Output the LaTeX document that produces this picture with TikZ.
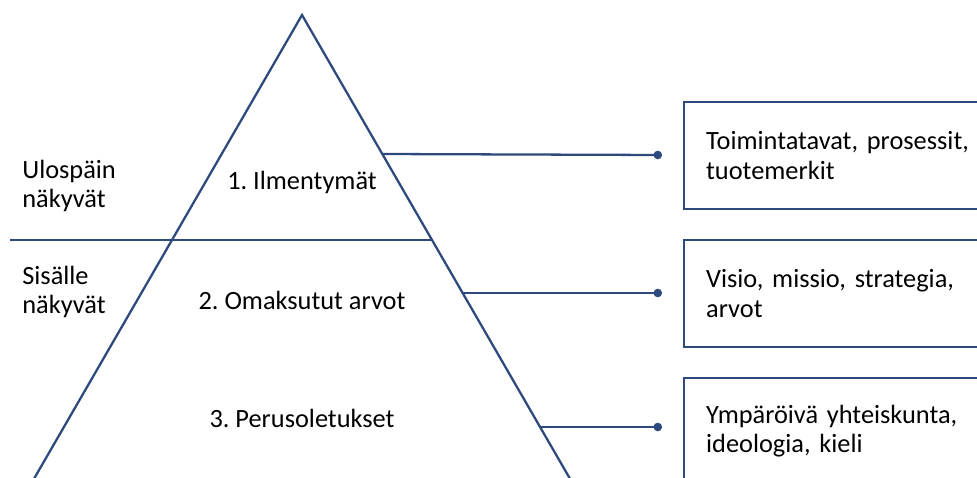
\documentclass[tikz,border=0pt]{standalone}
\usepackage{fontspec}
\setmainfont{Carlito}
\usetikzlibrary{arrows.meta}
\definecolor{linjasin}{HTML}{2E4A7D}
\tikzset{
    viiva/.style={draw=linjasin, line width=1.3pt},
    laatikko/.style={viiva, rectangle, anchor=west, minimum width=6.4cm, minimum height=2.14cm,
        text width=5.6cm, inner xsep=0.44cm, align=left, font=\teksti},
    teksti/.style={font=\teksti, align=left, inner sep=0pt},
    piste/.style={viiva, -{Circle[length=4.8pt]}}
}
\newcommand{\teksti}{\fontsize{15}{16.6}\selectfont\frenchspacing}
\begin{document}
\begin{tikzpicture}[x=0.02cm,y=-0.02cm]
    \clip (0,0) rectangle (977,477);
    \coordinate (huippu) at (302,15);
    \coordinate (vasen) at (20,503);
    \coordinate (oikea) at (584,503);
    \draw [viiva, line join=miter] (vasen) -- (huippu) -- (oikea);
    \coordinate (raja0) at (10,240);
    \coordinate (raja1) at (432,240);
    \draw [viiva] (raja0) -- (raja1);
    % tasot
    \node [teksti, anchor=center] (taso1) at (302,182) {1. Ilmentymät};
    \node [teksti, anchor=center] (taso2) at (302,300) {2. Omaksutut arvot};
    \node [teksti, anchor=center] (taso3) at (302,418) {3. Perusoletukset};
    \node [teksti, anchor=west] (ulos) at (22,186) {Ulospäin\\näkyvät};
    \node [teksti, anchor=west] (sisa) at (22,292) {Sisälle\\näkyvät};
    % laatikot
    \node [laatikko] (laatikko1) at (683,155.5) {Toimintatavat, prosessit,\\tuotemerkit};
    \node [laatikko] (laatikko2) at (683,293.5) {Visio, missio, strategia,\\arvot};
    \node [laatikko] (laatikko3) at (683,431.5) {Ympäröivä yhteiskunta,\\ideologia, kieli};
    \coordinate (reuna1) at (382,154);
    \coordinate (reuna2) at (463,293);
    \coordinate (reuna3) at (540,427);
    \coordinate (piste1) at (662,155);
    \coordinate (piste2) at (662,293);
    \coordinate (piste3) at (662,427);
    \draw [piste] (reuna1) -- (piste1);
    \draw [piste] (reuna2) -- (piste2);
    \draw [piste] (reuna3) -- (piste3);
\end{tikzpicture}
\end{document}
